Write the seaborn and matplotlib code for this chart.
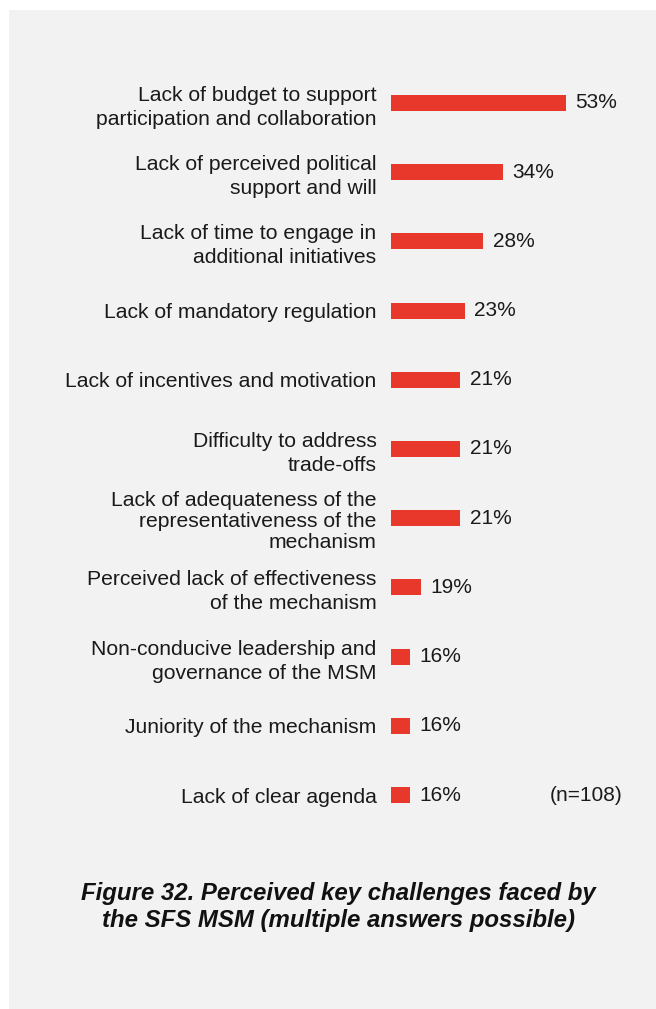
import matplotlib
matplotlib.use("Agg")
import matplotlib.pyplot as plt
import seaborn as sns
from matplotlib.patches import Rectangle

# Challenges (top to bottom) and the shares printed next to the bars
challenges = [
    "Lack of budget to support\nparticipation and collaboration",
    "Lack of perceived political\nsupport and will",
    "Lack of time to engage in\nadditional initiatives",
    "Lack of mandatory regulation",
    "Lack of incentives and motivation",
    "Difficulty to address\ntrade-offs",
    "Lack of adequateness of the\nrepresentativeness of the\nmechanism",
    "Perceived lack of effectiveness\nof the mechanism",
    "Non-conducive leadership and\ngovernance of the MSM",
    "Juniority of the mechanism",
    "Lack of clear agenda",
]
share_labels = ["53%", "34%", "28%", "23%", "21%", "21%", "21%", "19%", "16%", "16%", "16%"]
# bar lengths as drawn in the source (small bars there are not to scale)
bar_len = [53, 34, 28, 22.5, 21, 21, 21, 9, 5.8, 5.8, 5.8]
sample_note = "(n=108)"
caption = "Figure 32. Perceived key challenges faced by\nthe SFS MSM (multiple answers possible)"

sns.set_style("white")
plt.rcParams["font.family"] = ["Liberation Sans", "DejaVu Sans"]

W, H = 656, 1009
fig = plt.figure(figsize=(W / 100, H / 100), dpi=100)
fig.patch.set_facecolor("white")
# grey panel behind the chart
fig.patches.append(Rectangle((9 / W, 0), 1 - 9 / W, 1 - 10 / H,
                             transform=fig.transFigure, facecolor="#f2f2f2",
                             edgecolor="none", zorder=-5))

ax = fig.add_axes([391 / W, 1 - 829.6 / H, 264 / W, 761.2 / H])
ax.set_facecolor("none")
ax.set_zorder(2)

sns.barplot(x=bar_len, y=challenges, orient="h", color="#e8382c",
            width=0.23, saturation=1, linewidth=0, ax=ax)

ax.set_xlim(0, 80)
ax.set_ylim(10.5, -0.5)
ax.set_xticks([])
ax.set_xlabel("")
ax.set_ylabel("")
ax.tick_params(axis="y", length=0, pad=10.5, labelsize=15.2, labelcolor="#1a1a1a")
for lab in ax.get_yticklabels():
    # two-line labels are spaced looser than the three-line one
    lab.set_linespacing(1.15 if lab.get_text().count("\n") > 1 else 1.33)
sns.despine(ax=ax, left=True, bottom=True)

for i, (v, s) in enumerate(zip(bar_len, share_labels)):
    ax.text(v + 2.8, i, s, va="center", ha="left", fontsize=15, color="#1a1a1a")

ax.text(48, 10, sample_note, va="center", ha="left", fontsize=15, color="#1a1a1a")

fig.text(338 / W, 1 - 907 / H, caption, ha="center", va="center",
         fontsize=17.3, fontweight="bold", fontstyle="italic",
         color="#111111", linespacing=1.17)

fig.savefig("out.png", dpi=100)
